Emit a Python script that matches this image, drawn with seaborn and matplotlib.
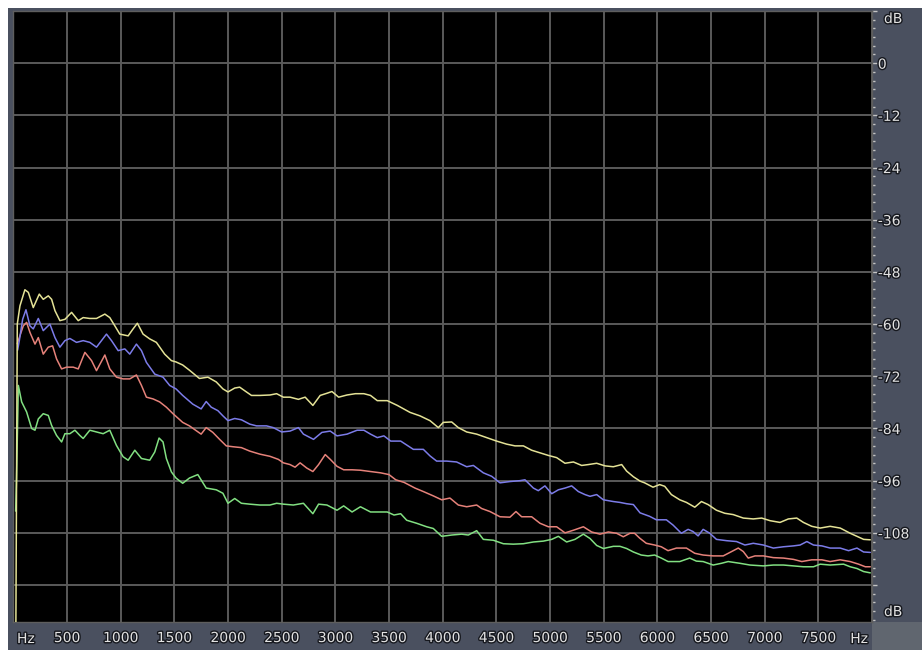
import matplotlib
matplotlib.use("Agg")
import matplotlib.pyplot as plt
import matplotlib.patheffects as pe
from matplotlib.patches import Rectangle
from matplotlib.ticker import MultipleLocator, FixedLocator
import pandas as pd
import seaborn as sns

# ---- spectrum data: frequency (Hz) and level (dB) per channel ----
yellow_hz = [22, 37, 62, 108, 140, 186, 242, 279, 326, 357,
             388, 434, 481, 543, 605, 651, 713, 775, 853, 899,
             946, 992, 1070, 1116, 1156, 1209, 1271, 1333, 1410, 1473,
             1516, 1578, 1641, 1734, 1813, 1891, 1953, 2000, 2063, 2109,
             2172, 2219, 2297, 2391, 2453, 2516, 2578, 2656, 2719, 2791,
             2859, 2922, 2969, 3031, 3109, 3188, 3266, 3328, 3391, 3484,
             3578, 3696, 3789, 3882, 3960, 4006, 4084, 4146, 4224, 4317,
             4410, 4503, 4596, 4674, 4752, 4829, 4907, 4985, 5062, 5140,
             5218, 5295, 5357, 5435, 5513, 5590, 5668, 5714, 5777, 5839,
             5882, 5960, 6022, 6069, 6131, 6209, 6271, 6349, 6411, 6473,
             6551, 6629, 6707, 6801, 6894, 6972, 7050, 7143, 7221, 7299,
             7361, 7439, 7517, 7610, 7704, 7797, 7860, 7922, 7984]
yellow_db = [-140, -60.0, -55.8, -52.1, -52.7, -56.2, -53.1, -54.3, -53.5, -54.3,
             -56.9, -59.2, -58.9, -57.3, -59.2, -58.5, -58.7, -58.7, -57.7, -58.5,
             -60.4, -62.3, -62.7, -61.1, -59.8, -62.3, -63.4, -64.2, -66.9, -68.4,
             -68.7, -69.4, -70.6, -72.5, -72.2, -73.3, -74.9, -75.6, -74.7, -74.5,
             -75.6, -76.4, -76.4, -76.3, -76.0, -76.8, -76.8, -77.3, -76.8, -78.7,
             -76.4, -75.9, -75.5, -76.8, -76.3, -76.0, -76.0, -76.4, -77.6, -77.6,
             -78.7, -80.3, -81.1, -82.2, -83.8, -82.6, -82.5, -83.8, -84.8, -85.3,
             -86.1, -86.9, -87.6, -88.0, -88.0, -89.0, -89.6, -90.2, -90.7, -92.0,
             -91.7, -92.5, -92.3, -92.0, -92.6, -92.8, -92.3, -93.8, -95.1, -96.1,
             -96.5, -97.5, -96.9, -97.3, -99.2, -100.4, -101.0, -102.1, -100.8, -101.5,
             -102.8, -103.5, -103.8, -104.6, -104.8, -104.6, -105.2, -105.6, -104.8, -104.6,
             -105.6, -106.5, -106.9, -106.5, -106.9, -108.1, -108.8, -109.5, -109.6]

blue_hz = [40, 56, 87, 118, 155, 186, 233, 279, 341, 388,
           434, 481, 527, 589, 651, 713, 775, 868, 915, 977,
           1039, 1085, 1147, 1194, 1240, 1318, 1395, 1457, 1516, 1578,
           1672, 1750, 1797, 1844, 1906, 1953, 2000, 2063, 2125, 2203,
           2266, 2359, 2422, 2500, 2578, 2656, 2703, 2797, 2875, 2953,
           3016, 3109, 3203, 3266, 3328, 3391, 3453, 3516, 3609, 3727,
           3820, 3882, 3944, 4037, 4130, 4224, 4286, 4379, 4457, 4534,
           4627, 4721, 4767, 4845, 4891, 4953, 5016, 5078, 5140, 5202,
           5264, 5326, 5373, 5435, 5497, 5590, 5652, 5714, 5777, 5839,
           5928, 5991, 6084, 6146, 6224, 6287, 6333, 6380, 6427, 6489,
           6551, 6645, 6738, 6816, 6894, 6988, 7081, 7175, 7268, 7330,
           7393, 7455, 7533, 7610, 7704, 7782, 7860, 7922, 7984]
blue_db = [-66.0, -63.8, -58.9, -56.7, -60.4, -61.1, -58.7, -61.5, -60.0, -63.1,
           -65.3, -63.8, -63.3, -64.2, -63.8, -64.2, -65.3, -62.3, -63.8, -66.1,
           -65.7, -66.9, -64.6, -66.1, -68.8, -71.5, -72.2, -74.1, -74.9, -76.4,
           -78.4, -79.5, -77.8, -79.1, -79.9, -81.1, -82.2, -81.7, -82.0, -83.0,
           -83.4, -83.4, -83.8, -84.8, -84.6, -83.8, -85.3, -86.5, -84.9, -84.6,
           -85.7, -85.3, -84.4, -84.4, -85.3, -86.1, -85.7, -86.9, -86.9, -88.8,
           -88.8, -90.3, -91.5, -91.5, -91.7, -92.8, -92.5, -94.2, -95.0, -96.5,
           -96.2, -96.0, -95.8, -97.7, -98.3, -97.2, -99.0, -98.1, -97.7, -97.2,
           -98.5, -99.2, -99.6, -99.2, -100.4, -100.8, -101.0, -101.3, -101.5, -103.4,
           -104.2, -105.0, -105.0, -106.2, -108.1, -107.2, -107.7, -108.7, -107.2, -108.1,
           -109.5, -109.8, -110.0, -110.8, -110.4, -110.8, -111.5, -111.2, -111.0, -110.8,
           -110.0, -110.8, -111.0, -111.5, -111.5, -112.1, -111.5, -112.4, -112.5]

red_hz = [37, 93, 124, 155, 202, 233, 279, 326, 366, 403,
          450, 496, 558, 605, 667, 729, 775, 853, 899, 961,
          1023, 1085, 1147, 1194, 1240, 1302, 1364, 1426, 1488, 1578,
          1641, 1750, 1797, 1859, 1922, 1984, 2047, 2125, 2203, 2297,
          2391, 2469, 2516, 2578, 2625, 2672, 2734, 2791, 2844, 2906,
          2953, 3016, 3078, 3156, 3234, 3328, 3422, 3500, 3563, 3641,
          3742, 3820, 3913, 3991, 4068, 4146, 4224, 4317, 4363, 4441,
          4534, 4627, 4683, 4736, 4829, 4907, 4985, 5062, 5140, 5218,
          5311, 5388, 5466, 5544, 5621, 5683, 5745, 5788, 5835, 5897,
          5975, 6037, 6100, 6178, 6271, 6349, 6427, 6520, 6614, 6692,
          6754, 6801, 6847, 6910, 6988, 7081, 7175, 7268, 7346, 7439,
          7533, 7610, 7704, 7797, 7875, 7938, 7984]
red_db = [-64.5, -60.4, -59.6, -61.9, -64.6, -63.1, -66.9, -65.3, -65.0, -68.0,
          -70.3, -69.9, -69.9, -70.3, -66.5, -68.4, -70.7, -67.1, -70.3, -72.2,
          -72.6, -72.6, -71.7, -74.1, -76.8, -77.2, -77.9, -79.1, -80.6, -82.6,
          -83.4, -85.3, -83.8, -84.9, -86.5, -88.0, -88.2, -88.4, -89.2, -89.9,
          -90.4, -91.1, -91.9, -92.3, -92.9, -91.9, -93.1, -93.9, -92.3, -90.0,
          -91.1, -92.7, -93.5, -93.5, -93.6, -93.9, -94.2, -94.6, -95.8, -96.4,
          -97.7, -98.5, -99.5, -100.4, -100.0, -101.6, -102.0, -101.6, -102.4, -103.1,
          -104.3, -104.4, -103.1, -104.3, -104.3, -105.8, -106.6, -106.6, -108.0, -107.4,
          -106.6, -107.8, -108.3, -107.8, -108.1, -108.9, -108.1, -108.1, -109.2, -110.4,
          -110.8, -111.2, -112.1, -111.5, -111.5, -112.7, -113.1, -113.3, -113.3, -112.3,
          -111.5, -112.3, -113.8, -113.3, -113.3, -113.7, -113.8, -114.1, -114.6, -114.2,
          -114.2, -114.6, -114.2, -114.6, -115.2, -115.8, -115.8]

green_hz = [22, 30, 47, 78, 124, 171, 202, 233, 279, 326,
            357, 403, 450, 481, 527, 574, 620, 651, 713, 775,
            837, 899, 961, 1023, 1070, 1132, 1194, 1271, 1318, 1358,
            1395, 1426, 1473, 1516, 1578, 1641, 1719, 1797, 1891, 1953,
            2000, 2063, 2125, 2203, 2297, 2391, 2453, 2516, 2609, 2703,
            2791, 2844, 2922, 3016, 3078, 3156, 3234, 3328, 3391, 3484,
            3547, 3609, 3665, 3758, 3851, 3913, 3991, 4084, 4177, 4239,
            4317, 4379, 4472, 4565, 4658, 4752, 4845, 4938, 5016, 5078,
            5155, 5233, 5311, 5373, 5435, 5497, 5590, 5652, 5714, 5777,
            5850, 5913, 5975, 6037, 6100, 6209, 6302, 6364, 6427, 6520,
            6598, 6660, 6769, 6863, 6988, 7081, 7175, 7268, 7361, 7455,
            7517, 7610, 7735, 7797, 7860, 7922, 7984]
green_db = [-103.0, -95.5, -74.1, -77.9, -80.2, -84.0, -84.4, -81.8, -80.6, -81.0,
            -83.3, -85.6, -87.1, -85.2, -85.2, -84.4, -85.6, -86.3, -84.4, -84.8,
            -85.2, -84.4, -87.9, -90.5, -91.3, -89.0, -90.9, -91.3, -89.4, -86.2,
            -87.1, -90.9, -94.0, -95.4, -96.6, -95.4, -94.6, -97.7, -98.1, -98.9,
            -101.2, -100.1, -101.2, -101.4, -101.6, -101.6, -101.2, -101.4, -101.6, -101.2,
            -103.6, -101.4, -101.6, -102.8, -101.8, -103.2, -102.0, -103.2, -103.2, -103.2,
            -103.9, -103.6, -105.1, -105.8, -106.6, -107.0, -108.8, -108.5, -108.3, -108.5,
            -107.5, -109.5, -109.7, -110.5, -110.6, -110.5, -110.1, -109.9, -109.5, -108.8,
            -110.1, -109.5, -108.3, -109.3, -110.9, -111.6, -111.1, -111.1, -111.6, -112.4,
            -113.1, -113.3, -113.1, -113.8, -114.6, -114.6, -113.8, -114.5, -114.6, -115.4,
            -115.0, -114.6, -115.0, -115.4, -115.6, -115.4, -115.4, -115.6, -115.8, -115.8,
            -115.2, -115.4, -115.2, -115.8, -116.2, -116.9, -117.2]

channels = ["green", "red", "blue", "yellow"]
channel_colors = {"green": "#82e082", "red": "#e6827a",
                  "blue": "#7c7ce8", "yellow": "#e4e296"}

freq_ticks = list(range(0, 8001, 500))
freq_labels = ["", "500", "1000", "1500", "2000", "2500", "3000", "3500",
               "4000", "4500", "5000", "5500", "6000", "6500", "7000", "7500", ""]
db_ticks = list(range(12, -121, -12))
db_labels = ["", "0", "-12", "-24", "-36", "-48", "-60", "-72",
             "-84", "-96", "-108", ""]

# ---- long-format table for seaborn ----
series = {"yellow": (yellow_hz, yellow_db), "blue": (blue_hz, blue_db),
          "red": (red_hz, red_db), "green": (green_hz, green_db)}
frames = []
for name in channels:
    hz, db = series[name]
    frames.append(pd.DataFrame({"hz": hz, "db": db, "channel": name}))
df = pd.concat(frames, ignore_index=True)

# ---- figure layout in pixels ----
W, H = 922, 650
PANEL = "#4a505f"
TEXT = "#e2e2e2"
sns.set_style("dark")
plt.rcParams["font.family"] = ["DejaVu Sans"]

fig = plt.figure(figsize=(W / 100, H / 100), dpi=100, facecolor=PANEL)
fig.patches.append(Rectangle((0, 1 - 8 / H), 1, 8 / H, transform=fig.transFigure,
                             facecolor="white", edgecolor="none", zorder=-5))
fig.patches.append(Rectangle((0, 0), 8 / W, 1, transform=fig.transFigure,
                             facecolor="white", edgecolor="none", zorder=-5))
fig.patches.append(Rectangle((872 / W, 0), (W - 872) / W, 28 / H, transform=fig.transFigure,
                             facecolor="#60666f", edgecolor="none", zorder=-5))

left, right, top, bottom = 13.3, 872, 11, 622
ax = fig.add_axes([left / W, 1 - bottom / H, (right - left) / W, (bottom - top) / H])
ax.set_facecolor("black")

sns.lineplot(data=df, x="hz", y="db", hue="channel", hue_order=channels,
             palette=channel_colors, estimator=None, sort=False, legend=False,
             linewidth=1.1, ax=ax, zorder=3)

ax.set_xlim(0, 8000)
ax.set_ylim(-128.5, 12)
ax.set_xlabel("")
ax.set_ylabel("")

# grid
ax.xaxis.set_major_locator(FixedLocator(freq_ticks))
ax.xaxis.set_minor_locator(MultipleLocator(100))
ax.yaxis.set_major_locator(FixedLocator(db_ticks))
ax.yaxis.set_minor_locator(MultipleLocator(2))
ax.grid(True, which="major", color="#5a5a5a", linewidth=1.4, zorder=1)
ax.grid(False, which="minor")
ax.set_axisbelow(True)
for s in ax.spines.values():
    s.set_color("#5e5e5e")
    s.set_linewidth(1.0)

# axis ticks and labels
stroke = [pe.withStroke(linewidth=2.0, foreground="#16181e")]
ax.set_xticklabels(freq_labels)
ax.set_yticklabels(db_labels)
ax.yaxis.tick_right()
ax.tick_params(axis="x", which="major", direction="out", length=4.3, width=1,
               color="#c4c4c4", pad=2.2, labelsize=10, labelcolor=TEXT)
ax.tick_params(axis="x", which="minor", direction="out", length=2.2, width=1,
               color="#c4c4c4")
ax.tick_params(axis="y", which="major", direction="out", length=3.6, width=1,
               color="#c4c4c4", pad=0.6, labelsize=10, labelcolor=TEXT)
ax.tick_params(axis="y", which="minor", direction="out", length=1.8, width=1,
               color="#c4c4c4")
for lab in ax.get_xticklabels() + ax.get_yticklabels():
    lab.set_path_effects(stroke)

# unit captions at the ends of both scales
unit_kw = dict(fontsize=10, color=TEXT, path_effects=stroke)
fig.text(17 / W, 1 - 639 / H, "Hz", ha="left", va="center", **unit_kw)
fig.text(868 / W, 1 - 639 / H, "Hz", ha="right", va="center", **unit_kw)
fig.text(884 / W, 1 - 19 / H, "dB", ha="left", va="center", **unit_kw)
fig.text(884 / W, 1 - 612 / H, "dB", ha="left", va="center", **unit_kw)

fig.savefig("out.png", dpi=100, facecolor=fig.get_facecolor())
